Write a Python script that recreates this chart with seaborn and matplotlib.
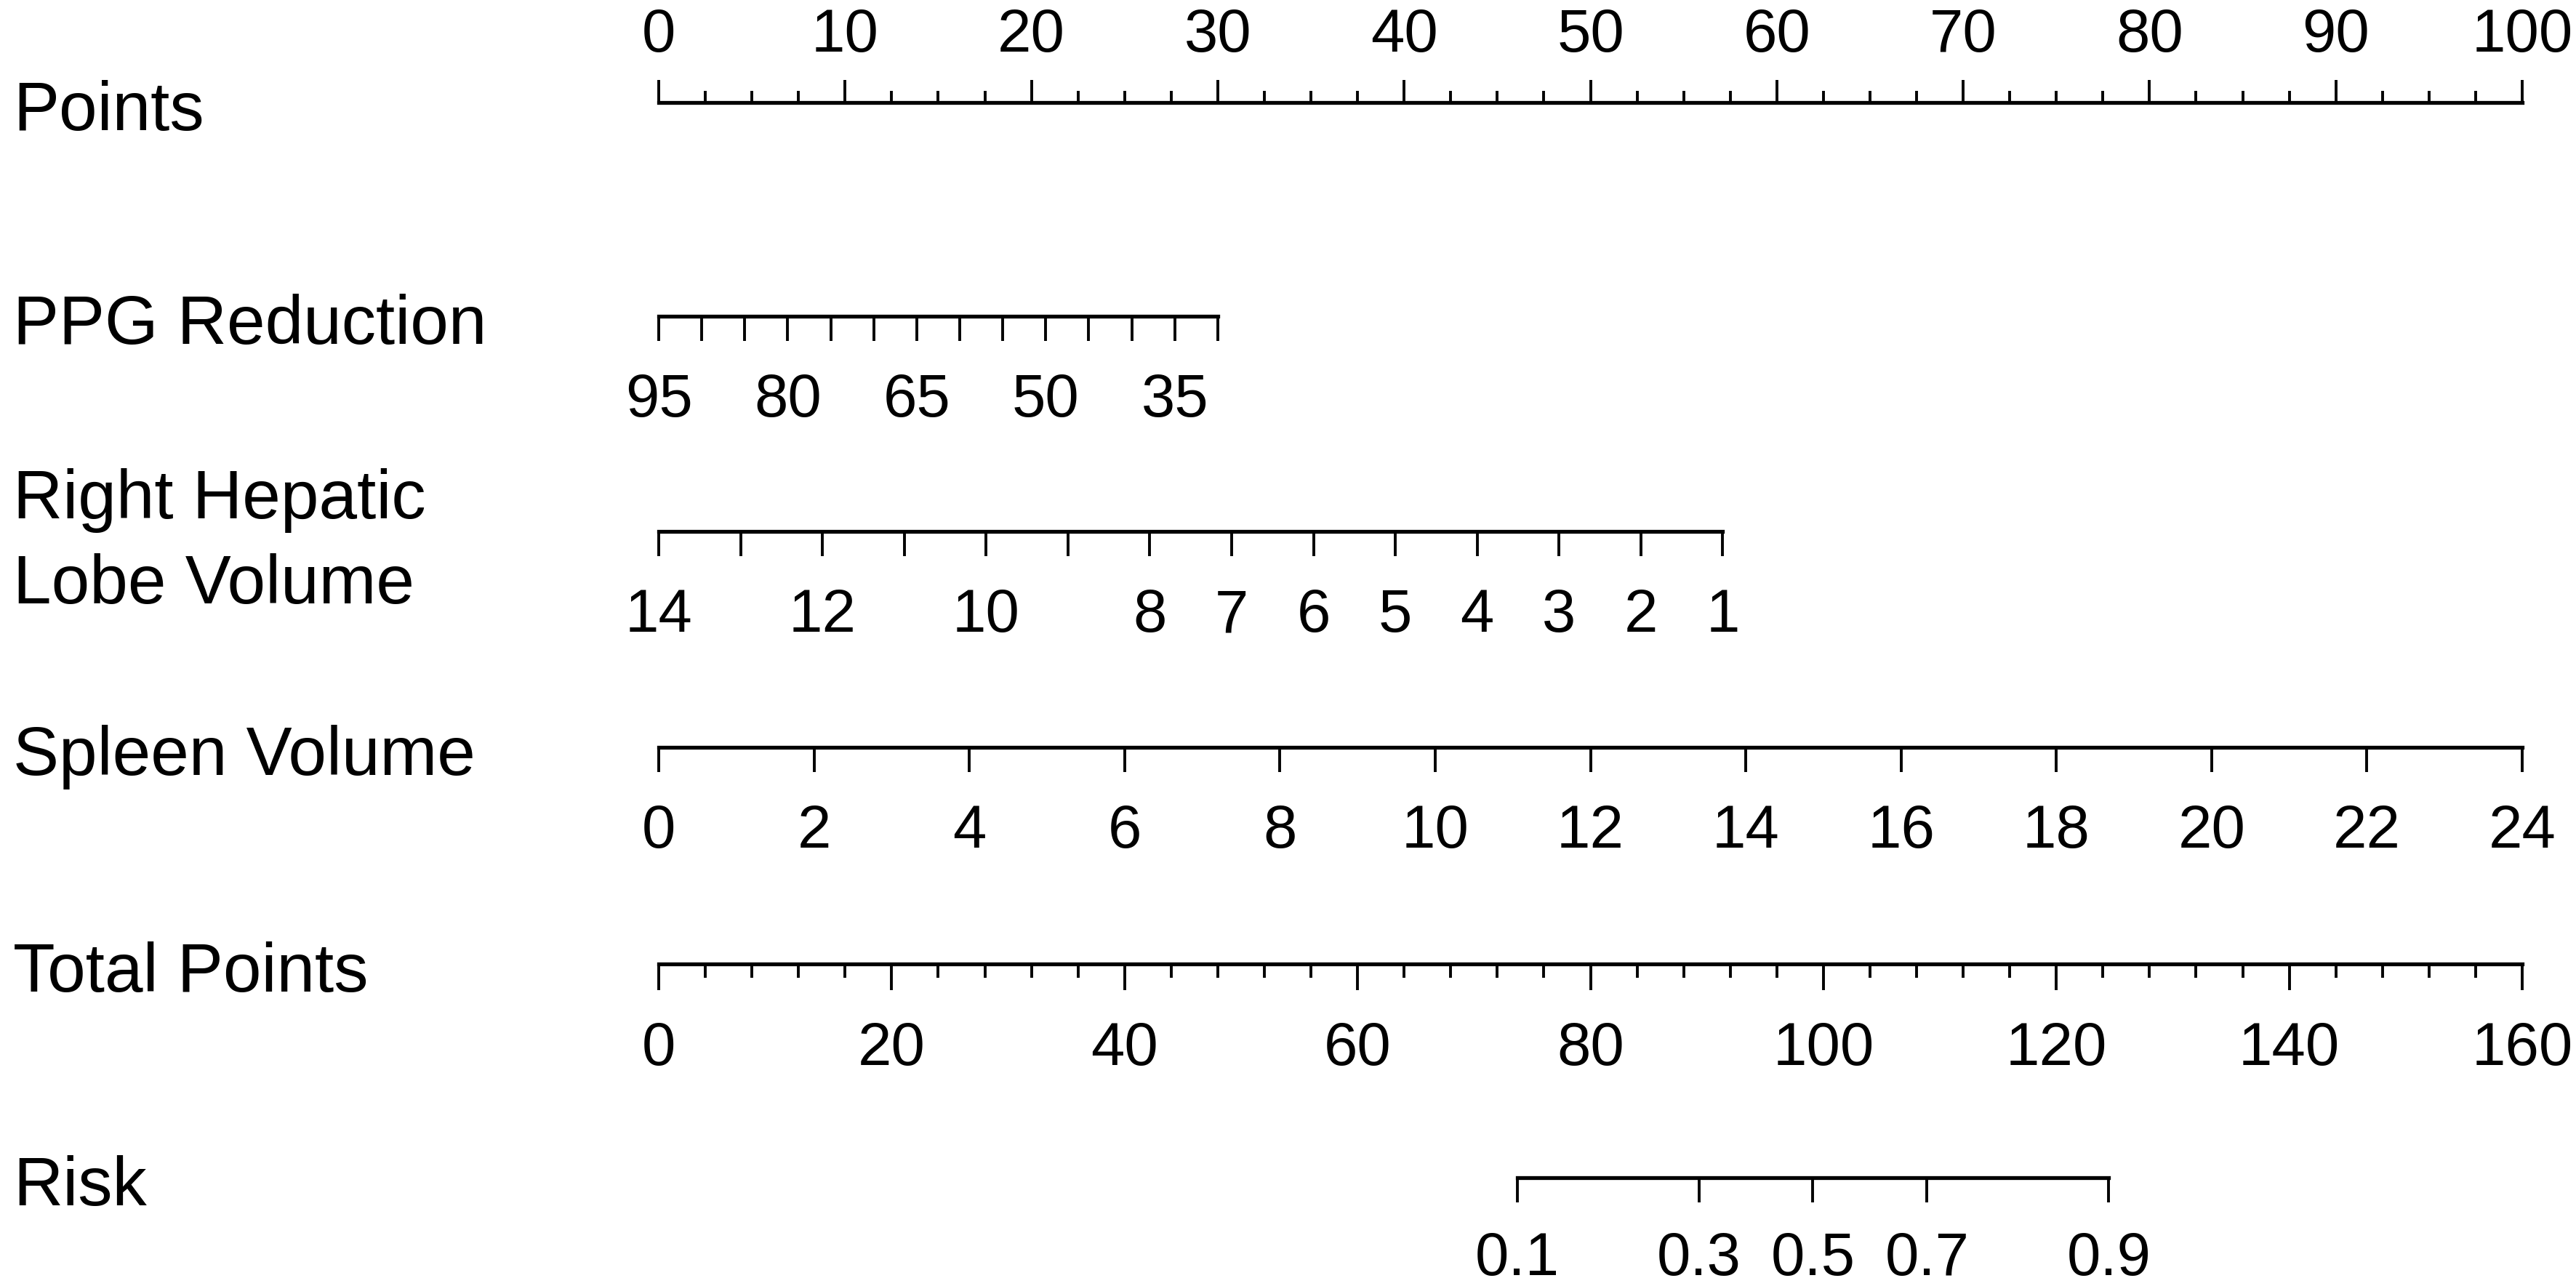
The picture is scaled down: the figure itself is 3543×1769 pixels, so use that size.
import numpy as np
import matplotlib.pyplot as plt
import seaborn as sns
from matplotlib.ticker import MultipleLocator, NullLocator

# nomogram rows
row_labels = ['Points', 'PPG Reduction', 'Right Hepatic\nLobe Volume',
              'Spleen Volume', 'Total Points', 'Risk']

points_ticks = [0, 10, 20, 30, 40, 50, 60, 70, 80, 90, 100]

ppg_ticks = [95, 90, 85, 80, 75, 70, 65, 60, 55, 50, 45, 40, 35, 30]
ppg_labels = ['95', '', '', '80', '', '', '65', '', '', '50', '', '', '35', '']
ppg_max_points = 30.0      # points reached at PPG reduction = 30

rhlv_ticks = [14, 13, 12, 11, 10, 9, 8, 7, 6, 5, 4, 3, 2, 1]
rhlv_labels = ['14', '', '12', '', '10', '', '8', '7', '6', '5', '4', '3', '2', '1']
rhlv_max_points = 57.1     # points reached at volume = 1

spleen_ticks = [0, 2, 4, 6, 8, 10, 12, 14, 16, 18, 20, 22, 24]
spleen_max_points = 100.0  # points reached at volume = 24

total_ticks = [0, 20, 40, 60, 80, 100, 120, 140, 160]

risk_ticks = [0.1, 0.3, 0.5, 0.7, 0.9]
risk_mid_total = 99.1      # total points where risk = 0.5
risk_slope = 0.0865        # change in logit per total point

sns.set_theme(style='white', rc={'text.color': 'black', 'axes.edgecolor': 'black',
                                 'xtick.color': 'black', 'axes.labelcolor': 'black'})
plt.rcParams['font.family'] = ['Liberation Sans', 'DejaVu Sans']

W, H = 3543, 1769
x0, x1 = 906, 3469
line_y = [141, 435, 731, 1028, 1326, 1620]

fig = plt.figure(figsize=(W / 100, H / 100), dpi=100)

LABEL_FS = 68
TICK_FS = 60
SPINE_LW = 3.8
TICK_LW = 2.8


def make_axis(y, top=False):
    ax = fig.add_axes([x0 / W, 1 - y / H, (x1 - x0) / W, 0.0001])
    ax.patch.set_visible(False)
    ax.set_yticks([])
    if top:
        sns.despine(ax=ax, left=True, right=True, top=False, bottom=True)
        ax.xaxis.set_ticks_position('top')
        ax.tick_params(axis='x', which='both', top=True, bottom=False,
                       labeltop=True, labelbottom=False)
        ax.spines['top'].set_linewidth(SPINE_LW)
    else:
        sns.despine(ax=ax, left=True, right=True, top=True, bottom=False)
        ax.tick_params(axis='x', which='both', top=False, bottom=True,
                       labelbottom=True)
        ax.spines['bottom'].set_linewidth(SPINE_LW)
    ax.tick_params(axis='x', which='both', direction='out', width=TICK_LW,
                   labelsize=TICK_FS, colors='black')
    return ax


def point_limits(v0, v1, pts1):
    # value v0 sits at 0 points, v1 at pts1 points, axis spans 0..100 points
    return v0, v0 + (v1 - v0) * 100.0 / pts1


# Points
ax = make_axis(line_y[0], top=True)
ax.set_xlim(0, 100)
ax.set_xticks(points_ticks, labels=[str(t) for t in points_ticks])
ax.xaxis.set_minor_locator(MultipleLocator(2.5))
ax.tick_params(axis='x', which='major', length=22, pad=16)
ax.tick_params(axis='x', which='minor', length=11.5)
ax.spines['top'].set_bounds(0, 100)

# PPG Reduction
ax = make_axis(line_y[1])
ax.set_xlim(*point_limits(ppg_ticks[0], ppg_ticks[-1], ppg_max_points))
ax.set_xticks(ppg_ticks, labels=ppg_labels)
ax.tick_params(axis='x', which='major', length=24.5, pad=31)
ax.spines['bottom'].set_bounds(ppg_ticks[-1], ppg_ticks[0])

# Right Hepatic Lobe Volume
ax = make_axis(line_y[2])
ax.set_xlim(*point_limits(rhlv_ticks[0], rhlv_ticks[-1], rhlv_max_points))
ax.set_xticks(rhlv_ticks, labels=rhlv_labels)
ax.tick_params(axis='x', which='major', length=24.5, pad=31)
ax.spines['bottom'].set_bounds(rhlv_ticks[-1], rhlv_ticks[0])

# Spleen Volume
ax = make_axis(line_y[3])
ax.set_xlim(*point_limits(spleen_ticks[0], spleen_ticks[-1], spleen_max_points))
ax.set_xticks(spleen_ticks, labels=[str(t) for t in spleen_ticks])
ax.tick_params(axis='x', which='major', length=24.5, pad=31)
ax.spines['bottom'].set_bounds(spleen_ticks[0], spleen_ticks[-1])

# Total Points
ax = make_axis(line_y[4])
ax.set_xlim(total_ticks[0], total_ticks[-1])
ax.set_xticks(total_ticks, labels=[str(t) for t in total_ticks])
ax.xaxis.set_minor_locator(MultipleLocator(4))
ax.tick_params(axis='x', which='major', length=26, pad=30)
ax.tick_params(axis='x', which='minor', length=14)
ax.spines['bottom'].set_bounds(total_ticks[0], total_ticks[-1])

# Risk on a logit scale matched to total points
ax = make_axis(line_y[5])
ax.set_xscale('logit')
lo = 1 / (1 + np.exp(-risk_slope * (total_ticks[0] - risk_mid_total)))
hi = 1 / (1 + np.exp(-risk_slope * (total_ticks[-1] - risk_mid_total)))
ax.set_xlim(lo, hi)
ax.set_xticks(risk_ticks, labels=[str(t) for t in risk_ticks])
ax.xaxis.set_minor_locator(NullLocator())
ax.tick_params(axis='x', which='major', length=24.5, pad=28)
ax.spines['bottom'].set_bounds(risk_ticks[0], risk_ticks[-1])

# row labels
for label, y in zip(row_labels, line_y):
    lines = label.split('\n')
    if len(lines) == 1:
        fig.text(18 / W, 1 - (y + 38) / H, lines[0], fontsize=LABEL_FS,
                 va='baseline', ha='left', color='black')
    else:
        for i, part in enumerate(lines):
            fig.text(18 / W, 1 - (y - 18 + 117 * i) / H, part, fontsize=LABEL_FS,
                     va='baseline', ha='left', color='black')

fig.savefig('out.png', dpi=100, facecolor='white')
